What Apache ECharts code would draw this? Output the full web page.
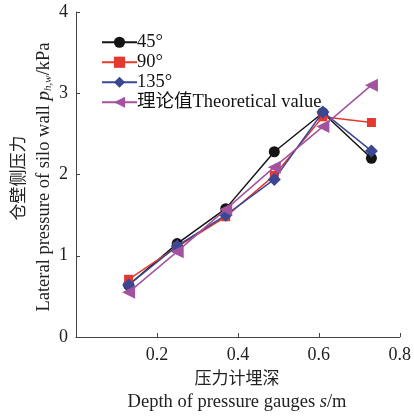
<!DOCTYPE html>
<html>
<head>
<meta charset="utf-8">
<script src="https://cdn.jsdelivr.net/npm/echarts@6/dist/echarts.min.js"></script>
<style>html,body{margin:0;padding:0;background:#fff}#c{width:414px;height:416px}</style>
</head>
<body>
<div id="c"></div>
<script>
var depths = [0.13, 0.25, 0.37, 0.49, 0.61, 0.73];
var s45 = [0.64, 1.15, 1.58, 2.28, 2.76, 2.20];
var s90 = [0.71, 1.11, 1.48, 1.99, 2.71, 2.64];
var s135 = [0.64, 1.12, 1.50, 1.94, 2.77, 2.29];
var theory = [0.55, 1.05, 1.57, 2.09, 2.59, 3.10];
var seriesNames = ['45°', '90°', '135°', '理论值Theoretical value'];
var xTicks = [0, 0.2, 0.4, 0.6, 0.8];
var yTicks = [0, 1, 2, 3, 4];

var FONT = '"Liberation Serif", "Noto Sans CJK SC", serif';
function pairs(v){ return depths.map(function(d,i){ return [d, v[i]]; }); }

var chart = echarts.init(document.getElementById('c'), null, {renderer:'canvas'});
var colors = ['#141414', '#e3392f', '#3a4893', '#a2529e'];
var symbols = ['circle', 'rect', 'diamond', 'triangle'];
var sizes = [11, 9, 13, 13];
var rots = [0, 0, 0, 90];
var datas = [s45, s90, s135, theory];

var series = datas.map(function(v, k){
  return {
    type: 'line', name: seriesNames[k], data: pairs(v),
    symbol: symbols[k], symbolSize: sizes[k], symbolRotate: rots[k],
    showAllSymbol: true,
    lineStyle: {color: colors[k], width: 1.5},
    itemStyle: {color: colors[k]},
    z: 2 + k, animation: false
  };
});

var SER = '"Liberation Serif"';
chart.setOption({
  animation: false,
  grid: {left: 76, top: 12, right: 13, bottom: 79},
  legend: {
    left: 96, top: 28, orient: 'vertical',
    itemWidth: 35, itemHeight: 14, itemGap: 1.5,
    textStyle: {fontFamily: FONT, fontSize: 18.5, color: '#111', lineHeight: 18, padding: [0,0,0,-5]},
    data: seriesNames
  },
  xAxis: {
    type: 'value', min: xTicks[0], max: xTicks[xTicks.length-1], interval: 0.2,
    axisLine: {lineStyle: {color: '#444', width: 1}},
    axisTick: {inside: true, length: 4, lineStyle: {color: '#444'}},
    splitLine: {show: false},
    axisLabel: {fontFamily: FONT, fontSize: 18, color: '#222', margin: 9, showMinLabel: false,
      formatter: function(v){ return v.toFixed(1); }}
  },
  yAxis: {
    type: 'value', min: yTicks[0], max: yTicks[yTicks.length-1], interval: 1,
    axisLine: {show: true, lineStyle: {color: '#444', width: 1}},
    axisTick: {show: true, inside: true, length: 4, lineStyle: {color: '#444'}},
    splitLine: {show: false},
    axisLabel: {fontFamily: FONT, fontSize: 18, color: '#222', margin: 8}
  },
  graphic: [
    {type: 'text', x: 237, y: 378, style: {text: '压力计埋深', font: '17px "Noto Sans CJK SC"', fill: '#222', align: 'center', verticalAlign: 'middle'}},
    {type: 'text', x: 237, y: 402, style: {
      text: '{n|Depth of pressure gauges }{i|s}{n|/m}',
      font: '18.5px ' + SER, fill: '#222', align: 'center', verticalAlign: 'middle',
      rich: {
        n: {font: '18.5px ' + SER, fill: '#222'},
        i: {font: 'italic 18.5px ' + SER, fill: '#222'}
      }
    }},
    {type: 'text', x: 18, y: 178, rotation: Math.PI/2, style: {text: '仓壁侧压力', font: '17px "Noto Sans CJK SC"', fill: '#222', align: 'center', verticalAlign: 'middle'}},
    {type: 'text', x: 44, y: 177, rotation: Math.PI/2, style: {
      text: '{n|Lateral pressure of silo wall }{i|p}{sub|h,w}{n|/kPa}',
      font: '18.5px ' + SER, fill: '#222', align: 'center', verticalAlign: 'middle',
      rich: {
        n: {font: '18.5px ' + SER, fill: '#222'},
        i: {font: 'italic 19px ' + SER, fill: '#222'},
        sub: {font: 'italic 11px ' + SER, fill: '#222', verticalAlign: 'bottom', padding: [7,0,0,0]}
      }
    }}
  ],
  series: series
});
</script>
</body>
</html>
